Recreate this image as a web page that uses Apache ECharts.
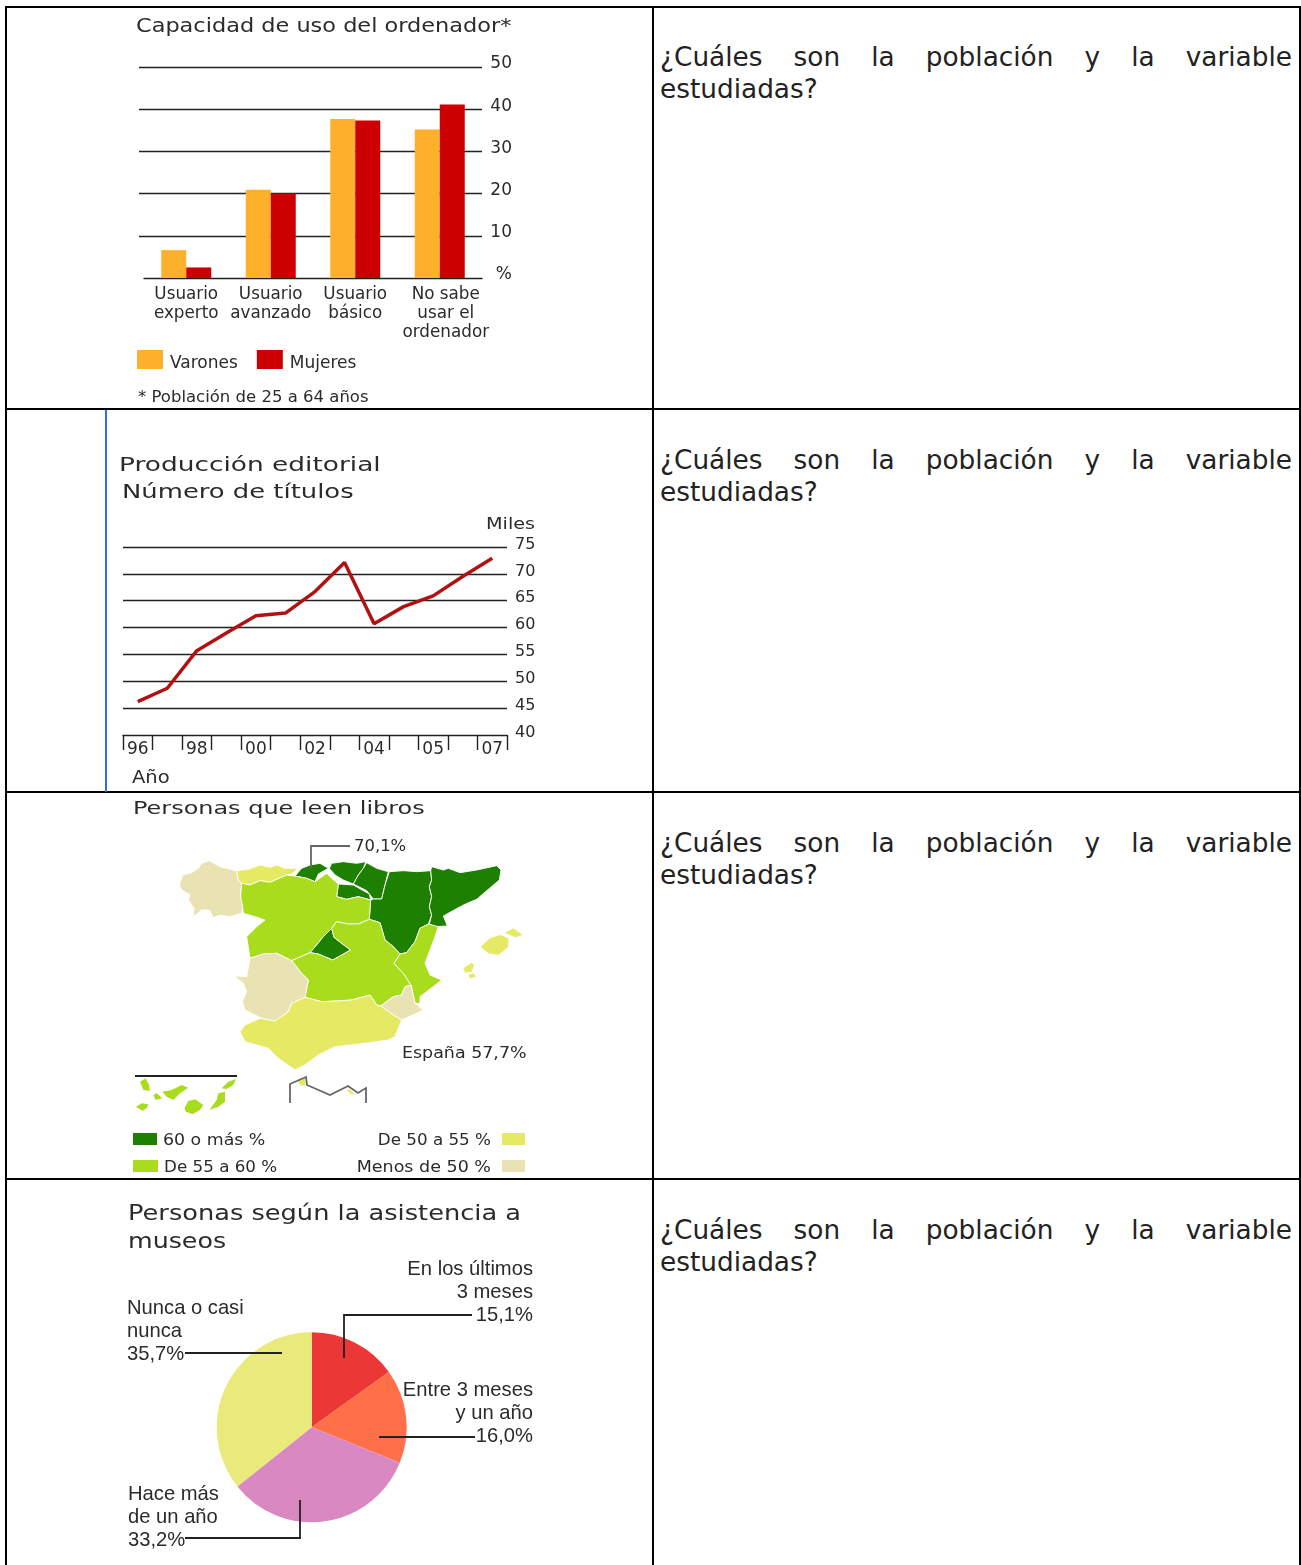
<!DOCTYPE html>
<html>
<head>
<meta charset="utf-8">
<script src="https://cdn.jsdelivr.net/npm/echarts@6/dist/echarts.min.js"></script>
<style>
html, body { margin: 0; padding: 0; width: 1301px; height: 1565px; overflow: hidden; background: #fff; }
table { position: absolute; left: 5px; top: 6px; width: 1296px; border-collapse: collapse; table-layout: fixed; }
td { border: 2px solid #000; padding: 34px 7px 0 6px; vertical-align: top; }
tr:first-child td { padding-top: 33px; }
td.text { font: 26.35px/32.4px "DejaVu Sans", sans-serif; color: #222; text-align: justify; }
#chart { position: absolute; left: 0; top: 0; width: 652px; height: 1565px; filter: blur(0.4px); }
#rule { position: absolute; left: 105px; top: 410px; width: 2px; height: 382px; background: #2f6fd8; }
</style>
</head>
<body>
<table>
    <colgroup><col style="width: 647px"><col></colgroup>
    <tr style="height: 402px"><td></td><td class="text">¿Cuáles son la población y la variable estudiadas?</td></tr>
    <tr style="height: 383px"><td></td><td class="text">¿Cuáles son la población y la variable estudiadas?</td></tr>
    <tr style="height: 387px"><td></td><td class="text">¿Cuáles son la población y la variable estudiadas?</td></tr>
    <tr style="height: 400px"><td></td><td class="text">¿Cuáles son la población y la variable estudiadas?</td></tr>
</table>
<div id="rule"></div>
<div id="chart"></div>
<script>
// capacidad de uso del ordenador
const usoCategories = ["Usuario\nexperto", "Usuario\navanzado", "Usuario\nbásico", "No sabe\nusar el\nordenador"];
const usoVarones = [6.6, 20.9, 37.7, 35.2];
const usoMujeres = [2.5, 20.0, 37.3, 41.1];

// produccion editorial, miles de titulos
const editorialYears = ["96", "97", "98", "99", "00", "01", "02", "03", "04", "", "05", "06", "07"];
const editorialTitles = [46.2, 48.7, 55.7, 59.0, 62.2, 62.7, 66.7, 72.1, 60.7, 63.9, 65.9, 69.5, 72.9];

// personas que leen libros, regiones por tramo
const lecturaLegend = ["60 o más %", "De 55 a 60 %", "De 50 a 55 %", "Menos de 50 %"];
const lecturaColors = ["#1e8000", "#a8dc1c", "#e6e964", "#e9e3b4"];
const regionsHigh = ["Cantabria", "País Vasco", "Navarra", "La Rioja", "Aragón", "Cataluña", "Madrid"];
const regionsMid = ["Castilla y León", "Castilla-La Mancha", "C. Valenciana", "Canarias"];
const regionsLow = ["Asturias", "Andalucía", "Baleares", "Ceuta", "Melilla"];
const regionsLowest = ["Galicia", "Extremadura", "Murcia"];
const regionsNoBorder = ["Canarias", "Baleares", "Ceuta", "Melilla"];

// asistencia a museos
const museosNames = ["En los últimos\n3 meses", "Entre 3 meses\ny un año", "Hace más\nde un año", "Nunca o casi\nnunca"];
const museosValues = [15.1, 16.0, 33.2, 35.7];
const museosColors = ["#ec3737", "#ff7048", "#d988c2", "#eae97c"];

// outlines, in picture units (y grows downwards)
const regionShapes = {
    "Galicia": [[[208,255],[218,225],[245,218],[265,205],[275,190],[298,182],[330,200],[380,212],[385,240],[395,250],[392,290],[398,320],[395,340],[360,350],[330,345],[310,353],[298,330],[275,330],[250,350],[252,325],[235,300],[240,285],[215,270]]],
    "Asturias": [[[380,212],[415,208],[450,195],[480,202],[500,195],[525,205],[565,205],[545,222],[530,225],[480,247],[450,242],[420,255],[395,250],[385,240]]],
    "Cantabria": [[[555,228],[575,205],[600,195],[630,190],[655,205],[625,222],[615,245],[590,235]]],
    "País Vasco": [[[658,205],[665,190],[700,185],[740,190],[768,185],[760,205],[745,225],[730,252],[700,240],[675,225]]],
    "Navarra": [[[770,188],[800,205],[835,215],[825,255],[815,297],[790,297],[770,272],[730,252],[745,225],[760,205]]],
    "La Rioja": [[[685,252],[730,255],[778,282],[782,300],[745,290],[710,298],[680,290]]],
    "Aragón": [[[838,215],[880,212],[920,215],[962,212],[965,240],[958,260],[965,290],[958,320],[965,345],[955,372],[930,385],[915,425],[890,458],[870,462],[850,440],[825,420],[810,368],[778,358],[782,300],[790,297],[815,297],[825,255]]],
    "Cataluña": [[[965,200],[1000,210],[1015,205],[1050,218],[1100,210],[1160,197],[1173,210],[1168,240],[1100,298],[1060,315],[1000,348],[1012,378],[975,380],[958,372],[965,345],[958,320],[965,290],[958,260],[965,240],[962,212]]],
    "Castilla y León": [[[395,250],[420,255],[450,242],[480,247],[530,225],[555,228],[590,235],[615,245],[650,220],[665,235],[685,252],[680,290],[710,298],[745,290],[782,300],[778,358],[745,372],[715,372],[680,365],[665,385],[640,410],[620,435],[600,458],[545,482],[500,460],[460,462],[420,475],[410,410],[440,380],[465,360],[435,350],[400,340],[398,320],[392,290]]],
    "Madrid": [[[665,385],[672,412],[695,430],[722,450],[668,480],[625,462],[600,458],[620,435],[640,410]]],
    "Castilla-La Mancha": [[[680,365],[715,372],[745,372],[778,358],[810,368],[825,420],[850,440],[870,462],[852,490],[880,520],[903,555],[885,560],[875,585],[850,590],[812,618],[800,615],[780,585],[725,600],[680,603],[635,605],[585,592],[595,540],[575,520],[545,482],[600,458],[625,462],[668,480],[722,450],[695,430],[672,412],[665,385]]],
    "C. Valenciana": [[[930,385],[955,372],[985,380],[975,410],[960,450],[945,490],[960,525],[995,540],[950,575],[930,590],[930,610],[915,610],[903,555],[880,520],[852,490],[870,462],[890,458],[915,425]]],
    "Murcia": [[[812,618],[850,590],[875,585],[885,560],[903,555],[915,610],[940,630],[920,640],[875,660],[850,645]]],
    "Extremadura": [[[373,528],[410,530],[420,475],[460,462],[500,460],[545,482],[575,520],[595,540],[585,592],[545,610],[535,635],[495,663],[455,655],[405,630],[397,605],[410,575],[400,550]]],
    "Andalucía": [[[390,695],[405,675],[450,655],[495,663],[535,635],[545,610],[585,592],[635,605],[680,603],[725,600],[780,585],[800,615],[812,618],[850,645],[875,660],[855,710],[835,720],[765,730],[675,740],[625,765],[585,795],[555,810],[505,775],[475,745],[405,725]]],
    "Baleares": [
        [[1112,440],[1140,415],[1170,405],[1195,415],[1195,440],[1165,465],[1135,460]],
        [[1185,398],[1210,385],[1238,405],[1215,412]],
        [[1060,505],[1085,488],[1092,495],[1085,515],[1065,518]],
        [[1075,525],[1090,520],[1098,530],[1080,535]]
    ],
    "Canarias": [
        [[78,920],[95,910],[115,913],[110,925],[97,932]],
        [[90,845],[107,835],[117,855],[120,872],[100,870]],
        [[130,885],[140,880],[157,895],[137,900]],
        [[157,875],[185,870],[215,855],[235,863],[210,880],[190,900],[170,890]],
        [[223,925],[235,903],[255,898],[280,915],[270,930],[248,943],[228,935]],
        [[298,930],[320,900],[325,880],[345,875],[345,905],[325,920]],
        [[335,865],[355,845],[378,837],[370,855],[350,867]]
    ],
    "Ceuta": [[[562,840],[585,835],[586,858],[570,855]]],
    "Melilla": [[[708,868],[722,870],[735,885],[722,882]]]
};

const FONT = '"DejaVu Sans", sans-serif';
const FONT_NARROW = '"Liberation Sans", Arial, sans-serif';
const INK = "#2b2b2b";
const LINE = "#222";

function regionFeatures() {
    return Object.keys(regionShapes).map(name => ({
        type: "Feature",
        properties: { name: name },
        geometry: {
            type: "MultiPolygon",
            coordinates: regionShapes[name].map(ring => [ring.map(p => [p[0], -p[1]])])
        }
    }));
}

function regionData() {
    let groups = [regionsHigh, regionsMid, regionsLow, regionsLowest];
    let data = [];
    groups.forEach((names, i) => {
        names.forEach(name => {
            data.push({
                name: name,
                value: 3 - i,
                itemStyle: {
                    areaColor: lecturaColors[i],
                    borderWidth: regionsNoBorder.includes(name) ? 0 : 0.9
                }
            });
        });
    });
    return data;
}

function text(str, x, y, size, opts) {
    opts = opts || {};
    return {
        type: "text",
        x: x,
        y: y + 1.5,
        scaleX: opts.stretch || 1,
        z: 100,
        silent: true,
        style: {
            text: str,
            fill: INK,
            fontSize: size,
            fontFamily: opts.family || FONT,
            align: opts.align || "left",
            verticalAlign: "middle",
            lineHeight: opts.lineHeight
        }
    };
}

function polyline(points, color, width) {
    return {
        type: "polyline",
        z: 100,
        silent: true,
        shape: { points: points },
        style: { stroke: color || LINE, lineWidth: width || 1.8, fill: null }
    };
}

function swatch(x, y, w, h, color) {
    return { type: "rect", silent: true, shape: { x: x, y: y, width: w, height: h }, style: { fill: color } };
}

function pieLabel(i, x, y, align) {
    let str = museosNames[i] + "\n" + museosValues[i].toFixed(1).replace(".", ",") + "%";
    return text(str, x, y, 20.2, { align: align, family: FONT_NARROW, lineHeight: 23 });
}

echarts.registerMap("spain", { type: "FeatureCollection", features: regionFeatures() });

// where the traced outlines sit on the page (trace units are 3 per pixel)
let allPoints = [];
Object.values(regionShapes).forEach(rings => rings.forEach(r => r.forEach(p => allPoints.push(p))));
let minX = Math.min(...allPoints.map(p => p[0]));
let maxX = Math.max(...allPoints.map(p => p[0]));
let minY = Math.min(...allPoints.map(p => p[1]));
let maxY = Math.max(...allPoints.map(p => p[1]));

let chart = echarts.init(document.getElementById("chart"));
chart.setOption({
    animation: false,
    legend: {
        left: 137,
        top: 350,
        padding: 0,
        data: ["Varones", "Mujeres"],
        icon: "rect",
        itemWidth: 26,
        itemHeight: 19,
        itemGap: 19,
        selectedMode: false,
        formatter: name => "{t|" + name + "}",
        textStyle: {
            fontFamily: FONT,
            fontSize: 17,
            color: INK,
            rich: { t: { fontFamily: FONT, fontSize: 17, color: INK, padding: [8, 0, 0, 2] } }
        }
    },
    grid: [
        { left: 139, top: 67, width: 343, height: 211 },
        { left: 144, top: 67, width: 338, height: 211 },
        { left: 123, top: 547, width: 384, height: 188 }
    ],
    xAxis: [
        { gridIndex: 0, type: "value", show: false },
        {
            gridIndex: 1,
            type: "category",
            data: usoCategories.map((c, i) => i === 3 ? { value: c, textStyle: { padding: [0, 0, 0, 12] } } : c),
            axisTick: { show: false },
            axisLine: { lineStyle: { color: LINE, width: 1.4 } },
            axisLabel: { interval: 0, margin: 7, fontFamily: FONT, fontSize: 16.8, color: INK, lineHeight: 19 }
        },
        {
            gridIndex: 2,
            type: "category",
            data: editorialYears,
            axisTick: { show: true, interval: 0, length: 15, lineStyle: { color: LINE, width: 1.4 } },
            axisLine: { lineStyle: { color: LINE, width: 1.4 } },
            axisLabel: { interval: 1, margin: 6, fontFamily: FONT, fontSize: 17, color: INK }
        }
    ],
    yAxis: [
        {
            gridIndex: 0,
            type: "value",
            position: "right",
            min: 0,
            max: 50,
            interval: 10,
            axisLine: { show: false },
            axisTick: { show: false },
            splitLine: { showMinLine: false, lineStyle: { color: LINE, width: 1.4 } },
            axisLabel: {
                margin: 30,
                align: "right",
                verticalAlign: "bottom",
                lineHeight: 6,
                fontFamily: FONT,
                fontSize: 17,
                color: INK,
                formatter: v => v === 0 ? "%" : v
            }
        },
        { gridIndex: 1, type: "value", min: 0, max: 50, show: false, splitLine: { show: false } },
        {
            gridIndex: 2,
            type: "value",
            position: "right",
            min: 40,
            max: 75,
            interval: 5,
            axisLine: { show: false },
            axisTick: { show: false },
            splitLine: { showMinLine: false, lineStyle: { color: LINE, width: 1.4 } },
            axisLabel: {
                margin: 8,
                verticalAlign: "bottom",
                lineHeight: 5,
                fontFamily: FONT,
                fontSize: 16,
                color: INK
            }
        }
    ],
    series: [
        {
            name: "Varones",
            type: "bar",
            xAxisIndex: 1,
            yAxisIndex: 1,
            data: usoVarones,
            barWidth: 25,
            barGap: 0,
            silent: true,
            itemStyle: { color: "#fdb02a" }
        },
        {
            name: "Mujeres",
            type: "bar",
            xAxisIndex: 1,
            yAxisIndex: 1,
            data: usoMujeres,
            barWidth: 25,
            barGap: 0,
            silent: true,
            itemStyle: { color: "#cc0000" }
        },
        {
            name: "Títulos",
            type: "line",
            xAxisIndex: 2,
            yAxisIndex: 2,
            data: editorialTitles,
            showSymbol: false,
            silent: true,
            lineStyle: { color: "#b01212", width: 3.5 }
        },
        {
            name: "Lectura",
            type: "map",
            map: "spain",
            left: 110 + minX / 3,
            top: 800 + minY / 3,
            width: (maxX - minX) / 3,
            height: (maxY - minY) / 3,
            aspectScale: 1,
            roam: false,
            silent: true,
            showLegendSymbol: false,
            label: { show: false },
            itemStyle: { borderColor: "#fff" },
            data: regionData()
        },
        {
            name: "Museos",
            type: "pie",
            center: [311.7, 1427.3],
            radius: 95,
            startAngle: 90,
            silent: true,
            label: { show: false },
            labelLine: { show: false },
            data: museosValues.map((v, i) => ({
                name: museosNames[i],
                value: v,
                itemStyle: { color: museosColors[i] }
            }))
        }
    ],
    graphic: [
        text("Capacidad de uso del ordenador*", 136, 26, 19, { stretch: 1.18 }),
        text("* Población de 25 a 64 años", 138, 397, 15, { stretch: 1.1 }),
        text("Producción editorial", 119, 465, 19, { stretch: 1.39 }),
        text("Número de títulos", 122, 492, 19, { stretch: 1.36 }),
        text("Miles", 486, 523, 16, { stretch: 1.2 }),
        text("Año", 132, 777, 17, { stretch: 1.15 }),
        text("Personas que leen libros", 133, 808, 18, { stretch: 1.33 }),
        text("70,1%", 354, 845, 15.5, { stretch: 1.06 }),
        text("España 57,7%", 402, 1052, 16, { stretch: 1.09 }),
        polyline([[311, 868], [311, 846], [350, 846]], "#666"),
        polyline([[135, 1076], [237, 1076]]),
        polyline([[290, 1103], [290, 1084], [306, 1077], [307, 1085], [330, 1095], [348, 1086], [358, 1093], [366, 1088], [366, 1103]], "#666"),
        swatch(133, 1133, 24, 12, lecturaColors[0]),
        swatch(133, 1160, 25, 12, lecturaColors[1]),
        swatch(502, 1133, 23, 12, lecturaColors[2]),
        swatch(502, 1160, 23, 12, lecturaColors[3]),
        text(lecturaLegend[0], 163, 1139, 15.5, { stretch: 1.12 }),
        text(lecturaLegend[1], 164, 1166, 15.5, { stretch: 1.08 }),
        text(lecturaLegend[2], 491, 1139, 15.5, { align: "right", stretch: 1.08 }),
        text(lecturaLegend[3], 491, 1166, 15.5, { align: "right", stretch: 1.13 }),
        text("Personas según la asistencia a", 128, 1213, 22, { stretch: 1.166 }),
        text("museos", 128, 1241, 22, { stretch: 1.15 }),
        pieLabel(0, 533, 1291, "right"),
        pieLabel(1, 533, 1412, "right"),
        pieLabel(2, 128, 1516, "left"),
        pieLabel(3, 127, 1330, "left"),
        polyline([[344, 1358], [344, 1315], [472, 1315]]),
        polyline([[379, 1437], [475, 1437]]),
        polyline([[300, 1500], [300, 1538], [185, 1538]]),
        polyline([[185, 1353], [282, 1353]])
    ]
});
window.addEventListener("resize", function() {
    chart.resize();
});
</script>
</body>
</html>
